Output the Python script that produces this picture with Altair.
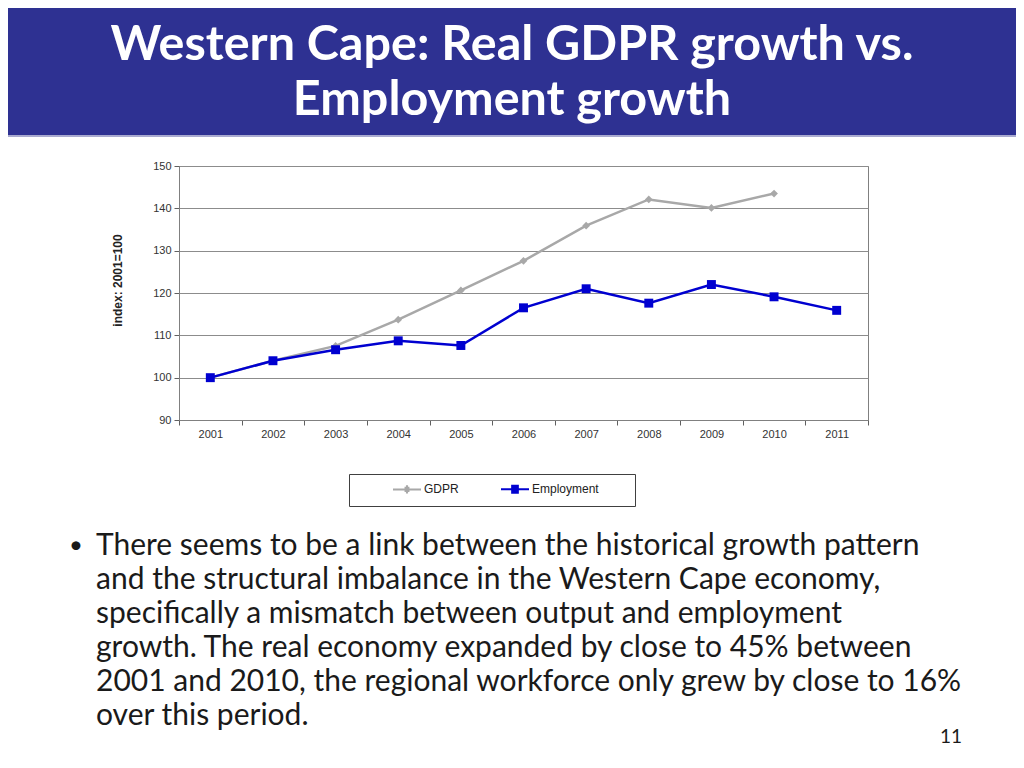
import altair as alt
import pandas as pd

# ---- data ----
years = ["2001", "2002", "2003", "2004", "2005", "2006", "2007", "2008", "2009", "2010", "2011"]
gdpr = [100.0, 104.0, 107.5, 113.7, 120.6, 127.6, 135.9, 142.1, 140.1, 143.5, None]
employment = [100.0, 104.0, 106.6, 108.7, 107.6, 116.5, 121.0, 117.6, 122.0, 119.1, 115.9]
series_names = ["GDPR", "Employment"]
series_colors = ["#A8A8A8", "#0000D0"]
y_ticks = [90, 100, 110, 120, 130, 140, 150]
y_title = "index: 2001=100"
title_lines = ["Western Cape: Real GDPR growth vs.", "Employment growth"]
body_lines = [
    "There seems to be a link between the historical growth pattern",
    "and the structural imbalance in the Western Cape economy,",
    "specifically a mismatch between output and employment",
    "growth. The real economy expanded by close to 45% between",
    "2001 and 2010, the regional workforce only grew by close to 16%",
    "over this period.",
]
page_number = "11"

rows = []
for name, vals in zip(series_names, [gdpr, employment]):
    for yr, v in zip(years, vals):
        if v is not None:
            rows.append({"year": yr, "series": name, "value": v})
df = pd.DataFrame(rows)
deco = pd.DataFrame({"k": [0]})

LEFT, TOP, W, H = 171, 158, 689, 254

x_enc = alt.X(
    "year:O",
    scale=alt.Scale(type="band", domain=years, paddingInner=0, paddingOuter=0),
    axis=alt.Axis(title=None, labelAngle=0, tickBand="extent", tickSize=5,
                  tickColor="#606060", domainColor="#808080", labelPadding=3,
                  labelFont="Liberation Sans", labelFontSize=11, labelColor="#333333"),
)
y_enc = alt.Y(
    "value:Q",
    scale=alt.Scale(domain=[90, 150], nice=False, zero=False),
    axis=alt.Axis(values=y_ticks, grid=True, gridColor="#8c8c8c", gridWidth=1,
                  tickSize=5, tickColor="#606060", domainColor="#808080",
                  labelFont="Liberation Sans", labelFontSize=11, labelColor="#333333",
                  labelPadding=3,
                  title=y_title, titleFont="Liberation Sans", titleFontSize=12,
                  titleFontWeight="bold", titleColor="#222222",
                  titleX=-62, titleY=114, titleAngle=270, titleAlign="center",
                  titleBaseline="middle"),
)

# legend symbols: a line with a marker drawn from strokes
legend_shapes = [
    "M-4,0H4M-0.7,-0.45H0.7M-0.7,0.45H0.7M-0.3,-0.9H0.3M-0.3,0.9H0.3",
    "M-4,0H4M-1.1,-1H1.1M-1.1,-0.5H1.1M-1.1,0.5H1.1M-1.1,1H1.1",
]
legend_kw = dict(
    title=None, orient="none", legendX=170, legendY=308, direction="horizontal",
    strokeColor="#404040", fillColor="white", padding=9,
    symbolSize=49, symbolOffset=43, labelOffset=11, columnPadding=7,
    symbolStrokeWidth=2, symbolOpacity=1,
    labelFont="Liberation Sans", labelFontSize=12, labelColor="#222222",
    labelExpr="datum.label === 'Employment' ? datum.label + '\u2800\u2800\u2800' : datum.label",
)
color_scale = alt.Scale(domain=series_names, range=series_colors)

base = alt.Chart(df)
legend_layer = base.transform_filter("false").mark_point(filled=False, size=49, strokeWidth=2).encode(
    x=x_enc, y=y_enc,
    color=alt.Color("series:N", scale=color_scale, legend=alt.Legend(**legend_kw)),
    shape=alt.Shape("series:N", scale=alt.Scale(domain=series_names, range=legend_shapes),
                    legend=alt.Legend(**legend_kw)),
)
lines = base.mark_line(strokeWidth=2.5).encode(
    x=x_enc, y=y_enc,
    color=alt.Color("series:N", scale=color_scale, legend=None),
    order=alt.Order("year:O"),
)
pts_gdpr = base.transform_filter(alt.datum.series == "GDPR").mark_point(
    filled=True, opacity=1, size=60, shape="diamond").encode(
    x=x_enc, y=y_enc, color=alt.Color("series:N", scale=color_scale, legend=None))
pts_emp = base.transform_filter(alt.datum.series == "Employment").mark_point(
    filled=True, opacity=1, size=80, shape="square").encode(
    x=x_enc, y=y_enc, color=alt.Color("series:N", scale=color_scale, legend=None))

header = alt.Chart(deco).mark_rect(color="#2E3192").encode(
    x=alt.value(-LEFT), x2=alt.value(1008 - LEFT), y=alt.value(-TOP), y2=alt.value(-31)
)
header_line = alt.Chart(deco).mark_rule(color="#A9AAD0", strokeWidth=2).encode(
    x=alt.value(-LEFT), x2=alt.value(1008 - LEFT), y=alt.value(-30)
)
title = alt.Chart(deco).mark_text(align="center", baseline="alphabetic", font="Lato",
                                   fontWeight="bold", fontSize=48.5, lineHeight=55,
                                   color="white").encode(
    x=alt.value(333), y=alt.value(-106), text=alt.value(title_lines))
bullet = alt.Chart(deco).mark_text(align="left", baseline="alphabetic", font="Lato",
                                    fontSize=24, color="#1a1a1a").encode(
    x=alt.value(-110), y=alt.value(387), text=alt.value("\u2022"))
body = alt.Chart(deco).mark_text(align="left", baseline="alphabetic", font="Lato",
                                  fontSize=30, lineHeight=34, color="#1a1a1a").encode(
    x=alt.value(-83), y=alt.value(389), text=alt.value(body_lines))
pnum = alt.Chart(deco).mark_text(align="left", baseline="alphabetic", font="Lato",
                                  fontSize=19, color="#1a1a1a").encode(
    x=alt.value(761), y=alt.value(577), text=alt.value(page_number))

chart = alt.layer(legend_layer, header, header_line, title, lines, pts_gdpr, pts_emp,
                  bullet, body, pnum).properties(
    width=W, height=H,
    autosize=alt.AutoSizeParams(type="none"),
    padding={"left": LEFT, "top": TOP, "right": 1008 - LEFT - W, "bottom": 752 - TOP - H},
    background="white",
).configure_view(stroke="#808080", strokeWidth=1)

chart.save("out.html", embed_options={"renderer": "svg", "actions": False})
